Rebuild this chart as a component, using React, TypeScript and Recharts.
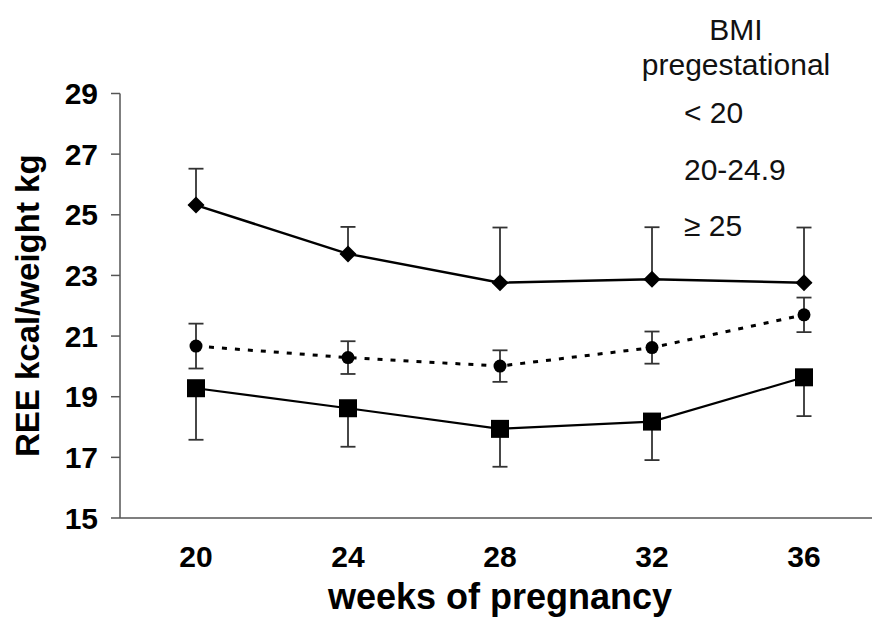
import React from 'react';
import { LineChart, Line, XAxis, YAxis, ErrorBar, Label } from 'recharts';

// weeks of pregnancy and REE (kcal/kg) per pregestational BMI group
const weeks = [20, 24, 28, 32, 36];
const boundaryTicks = [18, 22, 26, 30, 34];
const yTicks = [15, 17, 19, 21, 23, 25, 27, 29];

const groupNames = ['< 20', '20-24.9', '≥ 25'];

const lowBmiMean = [25.32, 23.71, 22.76, 22.87, 22.76];
const lowBmiSd = [1.2, 0.89, 1.82, 1.72, 1.82];

const normalBmiMean = [20.67, 20.29, 20.01, 20.62, 21.7];
const normalBmiSd = [0.74, 0.54, 0.52, 0.53, 0.57];

const highBmiMean = [19.28, 18.62, 17.94, 18.18, 19.64];
const highBmiSd = [1.7, 1.27, 1.25, 1.27, 1.28];

const rows = weeks.map((w, i) => ({
  week: w,
  low: lowBmiMean[i],
  lowErr: [0, lowBmiSd[i]],
  normal: normalBmiMean[i],
  normalErr: normalBmiSd[i],
  high: highBmiMean[i],
  highErr: [highBmiSd[i], 0],
}));

const FONT = '"Liberation Sans", Arial, Helvetica, sans-serif';
const AXIS = { stroke: '#555', strokeWidth: 1.5 };

const DiamondDot = (p: any) => {
  const { cx, cy, index } = p;
  if (cx == null || cy == null) return <g key={index} />;
  const s = 8.5;
  return <polygon key={index} points={`${cx},${cy - s} ${cx + s},${cy} ${cx},${cy + s} ${cx - s},${cy}`} fill="#000" />;
};

const SquareDot = (p: any) => {
  const { cx, cy, index } = p;
  if (cx == null || cy == null) return <g key={index} />;
  const s = 9;
  return <rect key={index} x={cx - s} y={cy - s} width={s * 2} height={s * 2} fill="#000" />;
};

const CircleDot = (p: any) => {
  const { cx, cy, index } = p;
  if (cx == null || cy == null) return <g key={index} />;
  return <circle key={index} cx={cx} cy={cy} r={6.5} fill="#000" />;
};

const YTitle = (p: any) => {
  const vb = p.viewBox || { y: 93, height: 425 };
  const cy = vb.y + vb.height / 2;
  const cx = 27;
  return (
    <text
      x={cx}
      y={cy}
      dy="0.355em"
      transform={`rotate(-90 ${cx} ${cy})`}
      textAnchor="middle"
      fontFamily={FONT}
      fontSize={33}
      fontWeight="bold"
      fill="#000"
    >
      REE kcal/weight kg
    </text>
  );
};

const legendText: React.CSSProperties = {
  position: 'absolute',
  fontFamily: FONT,
  fontSize: 30,
  lineHeight: '30px',
  color: '#111',
  whiteSpace: 'nowrap',
};

export default function App() {
  return (
    <div style={{ position: 'absolute', left: 0, top: 0, width: 872, height: 617, overflow: 'hidden', background: '#fff' }}>
      <LineChart width={880} height={617} data={rows} margin={{ top: 93.5, right: 0, bottom: 0, left: 0 }}>
        <XAxis
          xAxisId="marks"
          type="number"
          dataKey="week"
          domain={[18, 38]}
          ticks={boundaryTicks}
          interval={0}
          tick={false}
          tickSize={9}
          tickLine={AXIS}
          axisLine={false}
          height={0}
        />
        <XAxis
          type="number"
          dataKey="week"
          domain={[18, 38]}
          ticks={weeks}
          interval={0}
          tickLine={false}
          tickSize={9}
          tickMargin={19}
          axisLine={AXIS}
          height={99}
          tick={{ fontFamily: FONT, fontSize: 30, fontWeight: 'bold', fill: '#000' }}
        >
          <Label
            value="weeks of pregnancy"
            position="insideBottom"
            offset={8}
            style={{ fontFamily: FONT, fontSize: 36, fontWeight: 'bold', fill: '#000' }}
          />
        </XAxis>
        <YAxis
          domain={[15, 29]}
          ticks={yTicks}
          interval={0}
          width={120}
          tickSize={9}
          tickMargin={13}
          axisLine={AXIS}
          tickLine={AXIS}
          tick={{ fontFamily: FONT, fontSize: 30, fontWeight: 'bold', fill: '#000' }}
        >
          <Label content={<YTitle />} />
        </YAxis>

        <Line
          dataKey="low"
          name={groupNames[0]}
          stroke="#000"
          strokeWidth={2.5}
          dot={DiamondDot}
          activeDot={false}
          isAnimationActive={false}
        >
          <ErrorBar dataKey="lowErr" direction="y" width={7.5} stroke="#333" strokeWidth={1.8} />
        </Line>
        <Line
          dataKey="normal"
          name={groupNames[1]}
          stroke="#000"
          strokeWidth={3}
          strokeDasharray="5 8"
          dot={CircleDot}
          activeDot={false}
          isAnimationActive={false}
        >
          <ErrorBar dataKey="normalErr" direction="y" width={7.5} stroke="#333" strokeWidth={1.8} />
        </Line>
        <Line
          dataKey="high"
          name={groupNames[2]}
          stroke="#000"
          strokeWidth={2.2}
          dot={SquareDot}
          activeDot={false}
          isAnimationActive={false}
        >
          <ErrorBar dataKey="highErr" direction="y" width={7.5} stroke="#333" strokeWidth={1.8} />
        </Line>
      </LineChart>

      <div style={{ position: 'absolute', left: 640, top: 0, width: 192, height: 250 }}>
        <div style={{ ...legendText, left: 0, width: 192, textAlign: 'center', top: 15 }}>BMI</div>
        <div style={{ ...legendText, left: 0, width: 192, textAlign: 'center', top: 50 }}>pregestational</div>
        {groupNames.map((n, i) => (
          <div key={n} style={{ ...legendText, left: 44, top: 98 + i * 56.5 }}>
            {n}
          </div>
        ))}
      </div>
    </div>
  );
}
